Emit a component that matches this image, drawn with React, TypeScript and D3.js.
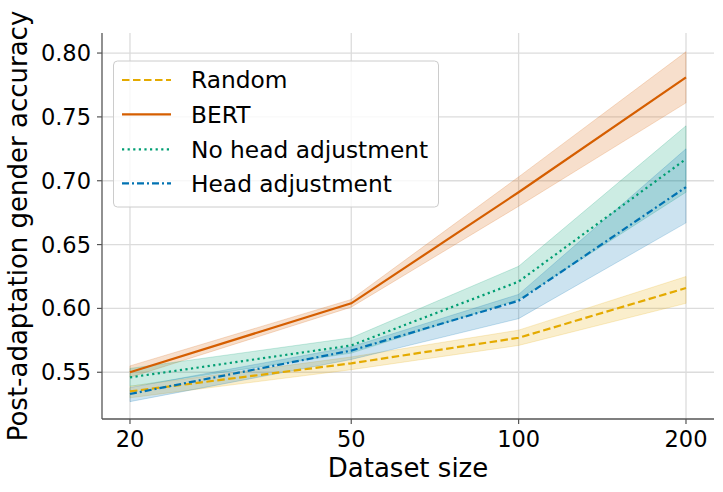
import React from "react";
import * as d3 from "d3";

const sizes = [20, 50, 100, 200];
const xTicks = [20, 50, 100, 200];
const yTicks = [0.55, 0.6, 0.65, 0.7, 0.75, 0.8];

const seriesNames = ["Random", "BERT", "No head adjustment", "Head adjustment"];
const seriesColors = ["#E4AA00", "#D55E00", "#009E73", "#0072B2"];
const seriesDash = ["7.5,3.5", "", "2.2,3.4", "7,3,2,3"];

const randomMean = [0.535, 0.557, 0.577, 0.616];
const randomLo = [0.530, 0.552, 0.571, 0.604];
const randomHi = [0.539, 0.562, 0.583, 0.625];

const bertMean = [0.550, 0.604, 0.691, 0.781];
const bertLo = [0.546, 0.601, 0.680, 0.761];
const bertHi = [0.555, 0.607, 0.703, 0.801];

const noHeadMean = [0.546, 0.571, 0.621, 0.717];
const noHeadLo = [0.539, 0.565, 0.607, 0.691];
const noHeadHi = [0.553, 0.577, 0.633, 0.743];

const headMean = [0.533, 0.567, 0.606, 0.695];
const headLo = [0.527, 0.560, 0.592, 0.667];
const headHi = [0.538, 0.570, 0.611, 0.725];

const means = [randomMean, bertMean, noHeadMean, headMean];
const los = [randomLo, bertLo, noHeadLo, headLo];
const his = [randomHi, bertHi, noHeadHi, headHi];

const W = 723;
const H = 492;
const L = 102, R = 714, T = 33, B = 419;
const FONT = "'DejaVu Sans', sans-serif";

export default function App() {
  const x = d3.scaleLog().domain([Math.pow(10, 1.2507), Math.pow(10, 2.3514)]).range([L, R]);
  const y = d3.scaleLinear().domain([0.5134, 0.8157]).range([B, T]);

  const line = d3
    .line<number>()
    .x((_, i) => x(sizes[i]))
    .y((d) => y(d));

  const area = (lo: number[], hi: number[]) =>
    d3
      .area<number>()
      .x((_, i) => x(sizes[i]))
      .y0((_, i) => y(lo[i]))
      .y1((_, i) => y(hi[i]))(sizes) as string;

  const legendRows = [80, 114.3, 149.3, 183.3];

  return (
    <div style={{ position: "absolute", left: 0, top: 0 }}>
      <svg width={W} height={H} style={{ display: "block", fontFamily: FONT }}>
        <rect x={0} y={0} width={W} height={H} fill="#fff" />
        {/* grid */}
        {yTicks.map((t) => (
          <line key={"gy" + t} x1={L} x2={R} y1={y(t)} y2={y(t)} stroke="#dcdcdc" strokeWidth={1.3} />
        ))}
        {xTicks.map((t) => (
          <line key={"gx" + t} x1={x(t)} x2={x(t)} y1={T} y2={B} stroke="#dcdcdc" strokeWidth={1.3} />
        ))}
        {/* bands */}
        {means.map((_, k) => (
          <path key={"a" + k} d={area(los[k], his[k])} fill={seriesColors[k]} fillOpacity={0.2} stroke={seriesColors[k]} strokeOpacity={0.2} strokeWidth={1} />
        ))}
        {/* lines */}
        {means.map((m, k) => (
          <path
            key={"l" + k}
            d={line(m) as string}
            fill="none"
            stroke={seriesColors[k]}
            strokeWidth={2.2}
            strokeDasharray={seriesDash[k] || undefined}
          />
        ))}
        {/* spines */}
        <line x1={L} x2={L} y1={T} y2={B} stroke="#555" strokeWidth={1.3} />
        <line x1={L} x2={R} y1={B} y2={B} stroke="#555" strokeWidth={1.3} />
        {/* y ticks */}
        {yTicks.map((t) => (
          <g key={"yt" + t}>
            <line x1={L - 5} x2={L} y1={y(t)} y2={y(t)} stroke="#555" strokeWidth={1.2} />
            <text x={91} y={y(t) + 8} textAnchor="end" fontSize={22.5} fill="#000">
              {d3.format(".2f")(t)}
            </text>
          </g>
        ))}
        {/* x ticks */}
        {xTicks.map((t) => (
          <g key={"xt" + t}>
            <line x1={x(t)} x2={x(t)} y1={B} y2={B + 5} stroke="#555" strokeWidth={1.2} />
            <text x={x(t)} y={447} textAnchor="middle" fontSize={22.5} fill="#000">
              {t}
            </text>
          </g>
        ))}
        {/* axis labels */}
        <text x={(L + R) / 2} y={477} textAnchor="middle" fontSize={26} fill="#000">
          Dataset size
        </text>
        <text
          transform={`translate(27,${(T + B) / 2}) rotate(-90)`}
          textAnchor="middle"
          fontSize={26}
          fill="#000"
        >
          Post-adaptation gender accuracy
        </text>
        {/* legend */}
        <rect x={113.5} y={61} width={325} height={146} rx={4} fill="#fff" fillOpacity={0.8} stroke="#cccccc" strokeWidth={1} />
        {seriesNames.map((n, k) => (
          <g key={"lg" + k}>
            <line
              x1={122}
              x2={171}
              y1={legendRows[k]}
              y2={legendRows[k]}
              stroke={seriesColors[k]}
              strokeWidth={2.2}
              strokeDasharray={seriesDash[k] || undefined}
            />
            <text x={191} y={legendRows[k] + 8.3} fontSize={23.3} fill="#000">
              {n}
            </text>
          </g>
        ))}
      </svg>
    </div>
  );
}
